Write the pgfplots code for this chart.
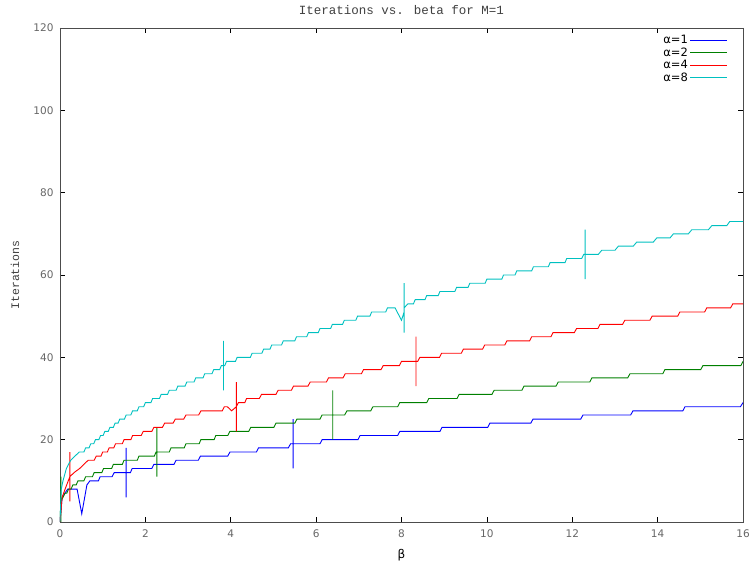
\documentclass[border=0pt]{standalone}
\usepackage{pgfplots}
\pgfplotsset{compat=1.18}
\usepackage{fontspec}
\setmainfont{DejaVu Sans}
\newfontfamily\monof{Liberation Mono}
\definecolor{gpblue}{RGB}{0,0,255}
\definecolor{gpgreen}{RGB}{0,128,0}
\definecolor{gpred}{RGB}{255,0,0}
\definecolor{gpcyan}{RGB}{0,192,192}
\begin{document}
\begin{tikzpicture}[x=1pt,y=1pt]
\useasboundingbox (-60,-47) rectangle (691,522);
\begin{axis}[
  at={(0,0)}, anchor=south west,
  scale only axis, width=683pt, height=494pt,
  xmin=0, xmax=16, ymin=0, ymax=120,
  xtick={0,2,...,16}, ytick={0,20,...,120},
  /pgf/number format/assume math mode=true,
  ticklabel style={font=\fontsize{10.5}{12}\selectfont, text=black!60},
  xticklabel style={yshift=-4pt},
  yticklabel style={xshift=-3pt},
  axis line style={black!70},
  tick style={black, line width=0.6pt},
  major tick length=5pt,
  title={\monof\fontsize{12.5}{14}\selectfont Iterations vs. beta for M=1},
  title style={at={(0.5,1)}, anchor=south, yshift=4pt, text=black!75},
  xlabel={\fontsize{12}{14}\selectfont β},
  xlabel style={at={(axis description cs:0.5,0)}, anchor=center, yshift=-33pt},
  ylabel={\monof\fontsize{11.5}{14}\selectfont Iterations},
  ylabel style={at={(axis description cs:-0.066,0.5)}, anchor=center, text=black!75},
  legend plot pos=right,
  legend cell align=right,
  legend style={at={(1,1)}, anchor=north east, xshift=-14pt, yshift=-4pt,
    draw=none, fill=none, font=\fontsize{11.5}{13}\selectfont,
    row sep=-1.5pt, inner sep=1pt},
  legend image code/.code={\draw[#1] (0pt,0pt) -- (37pt,0pt);},
  every axis plot/.append style={line width=0.9pt, mark=none},
  clip=true,
]
\addplot[gpblue] coordinates {
(0,0) (0.05,6) (0.18,8) (0.4,8) (0.51,2) (0.63,9) (0.7,10) (0.9,10) (0.94,11) (1.22,11) (1.27,12) (1.55,12) (1.55,18) (1.55,6) (1.55,12) (1.65,12) (1.69,13) (2.15,13) (2.2,14) (2.67,14) (2.72,15) (3.24,15) (3.29,16) (3.93,16) (3.98,17) (4.6,17) (4.65,18) (5.35,18) (5.4,19) (5.46,19) (5.46,25) (5.46,13) (5.46,19) (6.09,19) (6.14,20) (6.98,20) (7.03,21) (7.91,21) (7.96,22) (8.9,22) (8.95,23) (10.02,23) (10.07,24) (11.03,24) (11.08,25) (12.2,25) (12.25,26) (13.37,26) (13.42,27) (14.59,27) (14.64,28) (15.94,28) (16,29)
};
\addlegendentry{α=1}
\addplot[gpgreen] coordinates {
(0,0) (0.02,5) (0.02,11) (0.02,-1) (0.02,5) (0.12,7) (0.16,7) (0.2,8) (0.26,8) (0.3,9) (0.38,9) (0.42,10) (0.56,10) (0.6,11) (0.76,11) (0.8,12) (0.98,12) (1.02,13) (1.21,13) (1.25,14) (1.46,14) (1.5,15) (1.81,15) (1.85,16) (2.21,16) (2.25,17) (2.27,17) (2.27,23) (2.27,11) (2.27,17) (2.56,17) (2.6,18) (2.91,18) (2.95,19) (3.26,19) (3.3,20) (3.61,20) (3.65,21) (3.93,21) (3.98,22) (4.42,22) (4.47,23) (5.01,23) (5.06,24) (5.5,24) (5.55,25) (6.09,25) (6.14,26) (6.39,26) (6.39,32) (6.39,20) (6.39,26) (6.67,26) (6.72,27) (7.28,27) (7.33,28) (7.91,28) (7.96,29) (8.59,29) (8.64,30) (9.3,30) (9.35,31) (10.12,31) (10.17,32) (10.82,32) (10.87,33) (11.62,33) (11.67,34) (12.41,34) (12.46,35) (13.3,35) (13.35,36) (14.12,36) (14.17,37) (15.01,37) (15.06,38) (15.95,38) (16,39)
};
\addlegendentry{α=2}
\addplot[gpred] coordinates {
(0,0) (0.05,6) (0.12,8) (0.23,11) (0.23,17) (0.23,5) (0.23,11) (0.33,12) (0.46,13) (0.56,14) (0.66,15) (0.8,15) (0.85,16) (0.96,16) (1.0,17) (1.11,17) (1.15,18) (1.26,18) (1.3,19) (1.46,19) (1.5,20) (1.66,20) (1.7,21) (1.9,21) (1.95,22) (2.15,22) (2.2,23) (2.4,23) (2.45,24) (2.65,24) (2.7,25) (2.9,25) (2.95,26) (3.25,26) (3.3,27) (3.8,27) (3.85,28) (3.92,28) (4.02,27) (4.13,28) (4.13,34) (4.13,22) (4.13,28) (4.18,29) (4.33,29) (4.37,30) (4.67,30) (4.72,31) (5.06,31) (5.11,32) (5.42,32) (5.47,33) (5.81,33) (5.86,34) (6.24,34) (6.29,35) (6.63,35) (6.68,36) (7.06,36) (7.11,37) (7.52,37) (7.57,38) (7.95,38) (8.0,39) (8.34,39) (8.34,45) (8.34,33) (8.34,39) (8.38,39) (8.43,40) (8.89,40) (8.94,41) (9.4,41) (9.45,42) (9.9,42) (9.95,43) (10.42,43) (10.47,44) (11.0,44) (11.05,45) (11.5,45) (11.55,46) (12.05,46) (12.1,47) (12.6,47) (12.65,48) (13.18,48) (13.23,49) (13.82,49) (13.87,50) (14.47,50) (14.52,51) (15.1,51) (15.15,52) (15.71,52) (15.76,53) (16,53)
};
\addlegendentry{α=4}
\addplot[gpcyan] coordinates {
(0,0) (0.03,8) (0.07,10) (0.15,13) (0.25,15) (0.35,16) (0.45,17) (0.56,17) (0.6,18) (0.68,18) (0.72,19) (0.79,19) (0.83,20) (0.91,20) (0.95,21) (1.01,21) (1.05,22) (1.13,22) (1.17,23) (1.25,23) (1.29,24) (1.36,24) (1.4,25) (1.51,25) (1.55,26) (1.66,26) (1.7,27) (1.81,27) (1.85,28) (1.96,28) (2.0,29) (2.13,29) (2.17,30) (2.33,30) (2.37,31) (2.52,31) (2.56,32) (2.72,32) (2.76,33) (2.93,33) (2.97,34) (3.14,34) (3.18,35) (3.35,35) (3.39,36) (3.56,36) (3.6,37) (3.74,37) (3.78,38) (3.83,38) (3.83,44) (3.83,32) (3.83,38) (3.86,38) (3.9,39) (4.11,39) (4.15,40) (4.46,40) (4.5,41) (4.73,41) (4.77,42) (4.92,42) (4.96,43) (5.19,43) (5.23,44) (5.5,44) (5.54,45) (5.78,45) (5.82,46) (6.05,46) (6.09,47) (6.34,47) (6.38,48) (6.62,48) (6.66,49) (6.93,49) (6.97,50) (7.26,50) (7.3,51) (7.63,51) (7.67,52) (7.85,52) (7.95,50) (8.0,49) (8.06,51) (8.06,58) (8.06,46) (8.06,52) (8.15,53) (8.28,53) (8.32,54) (8.55,54) (8.59,55) (8.86,55) (8.9,56) (9.25,56) (9.29,57) (9.56,57) (9.6,58) (9.96,58) (10.0,59) (10.35,59) (10.39,60) (10.66,60) (10.7,61) (11.05,61) (11.09,62) (11.44,62) (11.48,63) (11.83,63) (11.87,64) (12.22,64) (12.27,65) (12.3,65) (12.3,71) (12.3,59) (12.3,65) (12.61,65) (12.69,66) (13.0,66) (13.08,67) (13.43,67) (13.51,68) (13.9,68) (13.98,69) (14.29,69) (14.37,70) (14.72,70) (14.8,71) (15.19,71) (15.27,72) (15.62,72) (15.69,73) (16,73)
};
\addlegendentry{α=8}
\end{axis}
\end{tikzpicture}
\end{document}
